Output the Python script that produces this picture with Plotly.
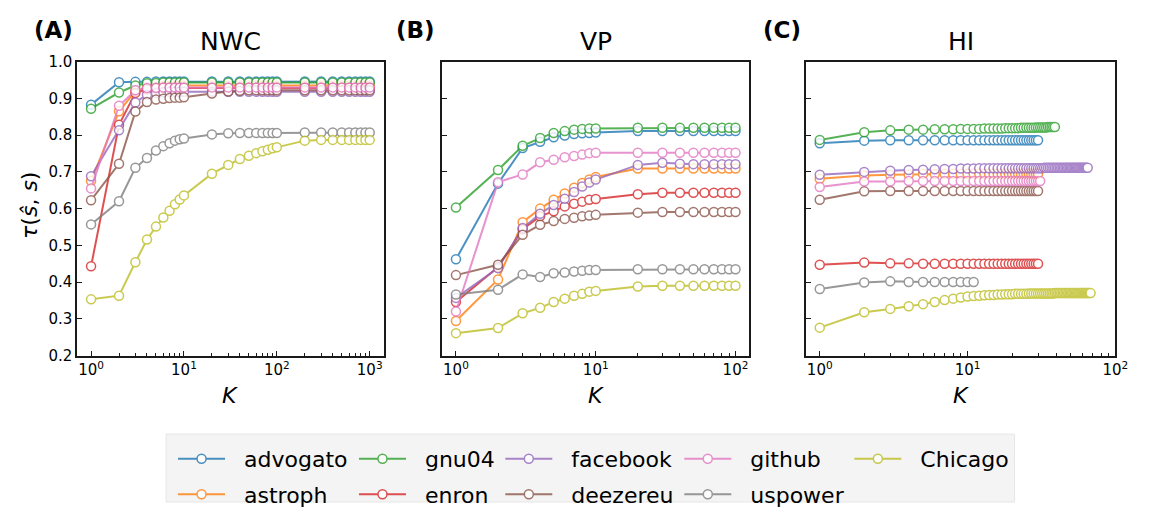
import plotly.graph_objects as go

W, H = 1157, 516

# ---------------- data ----------------
names = ["advogato", "astroph", "gnu04", "enron", "facebook",
         "deezereu", "github", "uspower", "Chicago"]
colors = ["#1f77b4", "#ff7f0e", "#2ca02c", "#d62728", "#9467bd",
          "#8c564b", "#e377c2", "#7f7f7f", "#bcbd22"]

K_A = [1, 2, 3, 4, 5, 6, 7, 8, 9, 10, 20, 30, 40, 50, 60, 70, 80, 90, 100,
       200, 300, 400, 500, 600, 700, 800, 900, 1000]
K_B = [1, 2, 3, 4, 5, 6, 7, 8, 9, 10, 20, 30, 40, 50, 60, 70, 80, 90, 100]

# (A) NWC
nwc_advogato = [0.883, 0.944, 0.945, 0.945, 0.946, 0.946, 0.946, 0.946, 0.946, 0.946,
                0.946, 0.946, 0.946, 0.946, 0.946, 0.946, 0.946, 0.946, 0.946,
                0.946, 0.946, 0.946, 0.946, 0.946, 0.946, 0.946, 0.946, 0.946]
nwc_astroph = [0.675, 0.865, 0.920, 0.930, 0.932, 0.933, 0.934, 0.934, 0.935, 0.935,
               0.935, 0.935, 0.935, 0.935, 0.935, 0.935, 0.935, 0.935, 0.935,
               0.935, 0.935, 0.935, 0.935, 0.935, 0.935, 0.935, 0.935, 0.935]
nwc_gnu04 = [0.872, 0.916, 0.935, 0.941, 0.942, 0.943, 0.943, 0.943, 0.943, 0.943,
             0.943, 0.943, 0.943, 0.943, 0.943, 0.943, 0.943, 0.943, 0.943,
             0.943, 0.943, 0.943, 0.943, 0.943, 0.943, 0.943, 0.943, 0.943]
nwc_enron = [0.443, 0.828, 0.915, 0.925, 0.927, 0.928, 0.928, 0.928, 0.928, 0.928,
             0.928, 0.928, 0.928, 0.928, 0.928, 0.928, 0.928, 0.928, 0.928,
             0.928, 0.928, 0.928, 0.928, 0.928, 0.928, 0.928, 0.928, 0.928]
nwc_facebook = [0.688, 0.813, 0.889, 0.910, 0.915, 0.917, 0.918, 0.918, 0.918, 0.918,
                0.918, 0.918, 0.918, 0.918, 0.918, 0.918, 0.918, 0.918, 0.918,
                0.918, 0.918, 0.918, 0.918, 0.918, 0.918, 0.918, 0.918, 0.918]
nwc_deezereu = [0.623, 0.722, 0.864, 0.890, 0.897, 0.899, 0.901, 0.902, 0.902, 0.903,
                0.913, 0.919, 0.921, 0.922, 0.922, 0.922, 0.922, 0.922, 0.922,
                0.922, 0.922, 0.922, 0.922, 0.922, 0.922, 0.922, 0.922, 0.922]
nwc_github = [0.655, 0.880, 0.922, 0.928, 0.929, 0.930, 0.930, 0.930, 0.930, 0.930,
              0.930, 0.930, 0.930, 0.930, 0.930, 0.930, 0.930, 0.930, 0.930,
              0.930, 0.930, 0.930, 0.930, 0.930, 0.930, 0.930, 0.930, 0.930]
nwc_uspower = [0.557, 0.620, 0.711, 0.738, 0.758, 0.770, 0.778, 0.785, 0.789, 0.791,
               0.802, 0.805, 0.806, 0.806, 0.806, 0.806, 0.806, 0.806, 0.806,
               0.807, 0.807, 0.807, 0.807, 0.807, 0.807, 0.807, 0.807, 0.807]
nwc_chicago = [0.353, 0.363, 0.454, 0.516, 0.551, 0.576, 0.594, 0.612, 0.625, 0.636,
               0.695, 0.719, 0.735, 0.744, 0.751, 0.756, 0.760, 0.764, 0.767,
               0.785, 0.787, 0.787, 0.787, 0.787, 0.787, 0.787, 0.787, 0.787]

# (B) VP
vp_advogato = [0.462, 0.668, 0.765, 0.782, 0.794, 0.799, 0.803, 0.805, 0.806, 0.807,
               0.811, 0.811, 0.811, 0.811, 0.811, 0.811, 0.811, 0.811, 0.811]
vp_astroph = [0.294, 0.407, 0.563, 0.600, 0.624, 0.641, 0.657, 0.670, 0.679, 0.686,
              0.709, 0.709, 0.709, 0.709, 0.709, 0.709, 0.709, 0.709, 0.709]
vp_gnu04 = [0.603, 0.705, 0.771, 0.792, 0.806, 0.811, 0.815, 0.817, 0.818, 0.818,
            0.820, 0.820, 0.820, 0.820, 0.820, 0.820, 0.820, 0.820, 0.820]
vp_enron = [0.346, 0.441, 0.544, 0.579, 0.593, 0.606, 0.613, 0.619, 0.624, 0.626,
            0.639, 0.643, 0.643, 0.643, 0.643, 0.643, 0.643, 0.643, 0.643]
vp_facebook = [0.357, 0.438, 0.547, 0.586, 0.610, 0.627, 0.645, 0.660, 0.671, 0.679,
               0.719, 0.725, 0.722, 0.721, 0.721, 0.721, 0.721, 0.721, 0.721]
vp_deezereu = [0.419, 0.447, 0.529, 0.556, 0.566, 0.572, 0.575, 0.579, 0.581, 0.583,
               0.589, 0.591, 0.591, 0.591, 0.591, 0.591, 0.591, 0.591, 0.591]
vp_github = [0.320, 0.672, 0.693, 0.726, 0.733, 0.740, 0.743, 0.747, 0.751, 0.752,
             0.752, 0.752, 0.752, 0.752, 0.752, 0.752, 0.752, 0.752, 0.752]
vp_uspower = [0.366, 0.379, 0.421, 0.414, 0.424, 0.426, 0.429, 0.431, 0.433, 0.433,
              0.435, 0.435, 0.435, 0.435, 0.435, 0.435, 0.435, 0.435, 0.435]
vp_chicago = [0.261, 0.275, 0.315, 0.330, 0.346, 0.355, 0.363, 0.368, 0.374, 0.376,
              0.388, 0.390, 0.390, 0.390, 0.390, 0.390, 0.390, 0.390, 0.390]

# (C) HI  (K = 1, 2, ..., len(series))
hi_advogato = [0.778, 0.785, 0.786, 0.786, 0.786, 0.786, 0.786, 0.786, 0.786, 0.786,
               0.786, 0.786, 0.786, 0.786, 0.786, 0.786, 0.786, 0.786, 0.786, 0.786,
               0.786, 0.786, 0.786, 0.786, 0.786, 0.786, 0.786, 0.786, 0.786, 0.786]
hi_astroph = [0.681, 0.690, 0.692, 0.693, 0.694, 0.694, 0.695, 0.695, 0.695, 0.695,
              0.695, 0.695, 0.695, 0.695, 0.695, 0.695, 0.695, 0.695, 0.695, 0.695,
              0.695, 0.695, 0.695, 0.695, 0.695, 0.695, 0.695, 0.695, 0.695, 0.695]
hi_gnu04 = [0.787, 0.808, 0.813, 0.815, 0.815, 0.816, 0.816, 0.816, 0.817, 0.817,
            0.817, 0.817, 0.818, 0.818, 0.818, 0.818, 0.818, 0.819, 0.819, 0.819,
            0.819, 0.819, 0.820, 0.820, 0.820, 0.820, 0.820, 0.820, 0.821, 0.821,
            0.821, 0.821, 0.821, 0.821, 0.822, 0.822, 0.822, 0.822, 0.822]
hi_enron = [0.447, 0.453, 0.451, 0.451, 0.450, 0.450, 0.450, 0.450, 0.450, 0.450,
            0.450, 0.450, 0.450, 0.450, 0.450, 0.450, 0.450, 0.450, 0.450, 0.450,
            0.450, 0.450, 0.450, 0.450, 0.450, 0.450, 0.450, 0.450, 0.450, 0.450]
hi_facebook = [0.692, 0.700, 0.703, 0.705, 0.706, 0.707, 0.708, 0.708, 0.709, 0.709,
               0.709, 0.710, 0.710, 0.710, 0.710, 0.710, 0.710, 0.710, 0.710, 0.710,
               0.710, 0.710, 0.710, 0.710, 0.710, 0.710, 0.710, 0.710, 0.710, 0.710,
               0.710, 0.710, 0.711, 0.711, 0.711, 0.711, 0.711, 0.711, 0.711, 0.711,
               0.711, 0.711, 0.711, 0.711, 0.711, 0.711, 0.711, 0.711, 0.711, 0.711,
               0.711, 0.711, 0.711, 0.711, 0.711, 0.711, 0.711, 0.711, 0.711, 0.711,
               0.711, 0.711, 0.711, 0.711, 0.711]
hi_deezereu = [0.624, 0.647, 0.648, 0.648, 0.648, 0.648, 0.648, 0.648, 0.648, 0.648,
               0.648, 0.648, 0.648, 0.648, 0.648, 0.648, 0.648, 0.648, 0.648, 0.648,
               0.648, 0.648, 0.648, 0.648, 0.648, 0.648, 0.648, 0.648, 0.648, 0.648]
hi_github = [0.659, 0.674, 0.674, 0.675, 0.675, 0.675, 0.675, 0.675, 0.675, 0.675,
             0.675, 0.675, 0.675, 0.675, 0.675, 0.675, 0.675, 0.675, 0.675, 0.675,
             0.675, 0.675, 0.675, 0.675, 0.675, 0.675, 0.675, 0.675, 0.675, 0.675,
             0.675]
hi_uspower = [0.381, 0.399, 0.402, 0.400, 0.400, 0.400, 0.400, 0.400, 0.400, 0.400,
              0.400]
hi_chicago = [0.276, 0.318, 0.327, 0.334, 0.340, 0.346, 0.351, 0.355, 0.358, 0.361,
              0.362, 0.363, 0.364, 0.365, 0.365, 0.366, 0.366, 0.367, 0.367, 0.367,
              0.368, 0.368, 0.368, 0.368, 0.368, 0.369, 0.369, 0.369, 0.369, 0.369,
              0.369, 0.369, 0.369, 0.369, 0.369, 0.369, 0.369, 0.369, 0.370, 0.370,
              0.370, 0.370, 0.370, 0.370, 0.370, 0.370, 0.370, 0.370, 0.370, 0.370,
              0.370, 0.370, 0.370, 0.370, 0.370, 0.370, 0.370, 0.370, 0.370, 0.370,
              0.370, 0.370, 0.370, 0.370, 0.370, 0.370, 0.370, 0.370]

panel_titles = ["NWC", "VP", "HI"]
panel_labels = ["(A)", "(B)", "(C)"]
y_ticks = [0.2, 0.3, 0.4, 0.5, 0.6, 0.7, 0.8, 0.9, 1.0]

series_A = [nwc_advogato, nwc_astroph, nwc_gnu04, nwc_enron, nwc_facebook,
            nwc_deezereu, nwc_github, nwc_uspower, nwc_chicago]
series_B = [vp_advogato, vp_astroph, vp_gnu04, vp_enron, vp_facebook,
            vp_deezereu, vp_github, vp_uspower, vp_chicago]
series_C = [hi_advogato, hi_astroph, hi_gnu04, hi_enron, hi_facebook,
            hi_deezereu, hi_github, hi_uspower, hi_chicago]

# ---------------- layout geometry (pixels) ----------------
panels_px = [(78, 388), (447, 758), (815, 1128)]
y_top, y_bot = 55, 362
x_ranges = [[-0.15, 3.15], [-0.1, 2.1], [-0.094, 2.0]]

def px_x(p):
    return p / W

def px_y(p):
    return 1 - p / H

FONT = "DejaVu Sans"
NBSP = "\u00a0"
fig = go.Figure()

# legend columns (column-major, like matplotlib ncol=5)
legend_cols = [["advogato", "astroph"], ["gnu04", "enron"],
               ["facebook", "deezereu"], ["github", "uspower"], ["Chicago"]]
legend_marker_x = [200, 383, 531, 712, 884]
legend_of = {}
for ci, col in enumerate(legend_cols):
    for nm in col:
        legend_of[nm] = "legend" if ci == 0 else "legend%d" % (ci + 1)

for pi, series in enumerate([series_A, series_B, series_C]):
    xa = "x" if pi == 0 else "x%d" % (pi + 1)
    ya = "y" if pi == 0 else "y%d" % (pi + 1)
    for si, nm in enumerate(names):
        vals = series[si]
        if pi == 0:
            kk = K_A
        elif pi == 1:
            kk = K_B
        else:
            kk = list(range(1, len(vals) + 1))
        fig.add_trace(go.Scatter(
            x=kk, y=vals, name=NBSP * 2 + nm, mode="lines+markers",
            xaxis=xa, yaxis=ya,
            line=dict(color=colors[si], width=2),
            marker=dict(symbol="circle", size=9, color="white",
                        line=dict(color=colors[si], width=1.5)),
            opacity=0.8,
            legendgroup=nm,
            legend=legend_of[nm],
            showlegend=(pi == 0),
        ))

layout = dict(
    width=W, height=H,
    margin=dict(l=0, r=0, t=0, b=0),
    paper_bgcolor="white", plot_bgcolor="white",
    font=dict(family=FONT, color="black", size=15),
)

for pi in range(3):
    sfx = "" if pi == 0 else str(pi + 1)
    x0, x1 = panels_px[pi]
    dec_hi = int(x_ranges[pi][1] + 0.999)
    tv = [10 ** d for d in range(0, dec_hi + 1)]
    tt = ["10<sup>%d</sup>" % d for d in range(0, dec_hi + 1)]
    minor_vals = [m * 10 ** d for d in range(0, dec_hi) for m in range(2, 10)]
    layout["xaxis" + sfx] = dict(
        type="log", domain=[px_x(x0), px_x(x1)], range=x_ranges[pi],
        anchor="y" + sfx, showgrid=False, zeroline=False,
        showline=True, linecolor="#1a1a1a", linewidth=1.6, mirror=True,
        ticks="inside", ticklen=5, tickwidth=1.2, tickcolor="#1a1a1a",
        tickmode="array", tickvals=tv, ticktext=tt,
        tickfont=dict(family=FONT, size=15),
        minor=dict(ticks="inside", ticklen=3, tickwidth=1, tickcolor="#1a1a1a",
                   tickmode="array", tickvals=minor_vals, showgrid=False),
    )
    layout["yaxis" + sfx] = dict(
        domain=[px_y(y_bot), px_y(y_top)], range=[0.2, 1.0],
        anchor="x" + sfx, showgrid=False, zeroline=False,
        showline=True, linecolor="#1a1a1a", linewidth=1.6, mirror=True,
        ticks="inside", ticklen=5, tickwidth=1.2, tickcolor="#1a1a1a",
        tickmode="array", tickvals=y_ticks,
        ticktext=["%.1f" % v for v in y_ticks],
        showticklabels=(pi == 0),
        tickfont=dict(family=FONT, size=15),
    )

# legends
for ci, col in enumerate(legend_cols):
    key = "legend" if ci == 0 else "legend%d" % (ci + 1)
    layout[key] = dict(
        x=px_x(legend_marker_x[ci] - 25), xanchor="left",
        y=px_y(448), yanchor="top",
        orientation="v", bgcolor="rgba(0,0,0,0)", borderwidth=0,
        font=dict(family=FONT, size=22, color="black"),
        tracegroupgap=4, itemwidth=47,
    )

fig.update_layout(**layout)

# legend background box
fig.add_shape(type="rect", xref="paper", yref="paper",
              x0=px_x(168), x1=px_x(1026), y0=px_y(515), y1=px_y(444),
              fillcolor="#f4f4f4", line=dict(color="#e6e6e6", width=1),
              layer="below")

annotations = []
for pi in range(3):
    x0, x1 = panels_px[pi]
    cx = (x0 + x1) / 2
    annotations.append(dict(text=panel_titles[pi], x=px_x(cx), y=px_y(34),
                            xref="paper", yref="paper", showarrow=False,
                            xanchor="center", yanchor="middle",
                            font=dict(family=FONT, size=25)))
    annotations.append(dict(text="<i>K</i>", x=px_x(cx), y=px_y(404),
                            xref="paper", yref="paper", showarrow=False,
                            xanchor="center", yanchor="middle",
                            font=dict(family=FONT, size=22)))
label_x = [32, 398, 770]
for pi in range(3):
    annotations.append(dict(text="<b>%s</b>" % panel_labels[pi],
                            x=px_x(label_x[pi]), y=px_y(22),
                            xref="paper", yref="paper", showarrow=False,
                            xanchor="left", yanchor="middle",
                            font=dict(family=FONT, size=23)))
annotations.append(dict(text="<i>τ</i>(<i>ŝ</i>, <i>s</i>)",
                        x=px_x(30), y=px_y(205), xref="paper", yref="paper",
                        showarrow=False, textangle=-90,
                        xanchor="center", yanchor="middle",
                        font=dict(family=FONT, size=22)))
fig.update_layout(annotations=annotations)

fig.write_html("out.html")
